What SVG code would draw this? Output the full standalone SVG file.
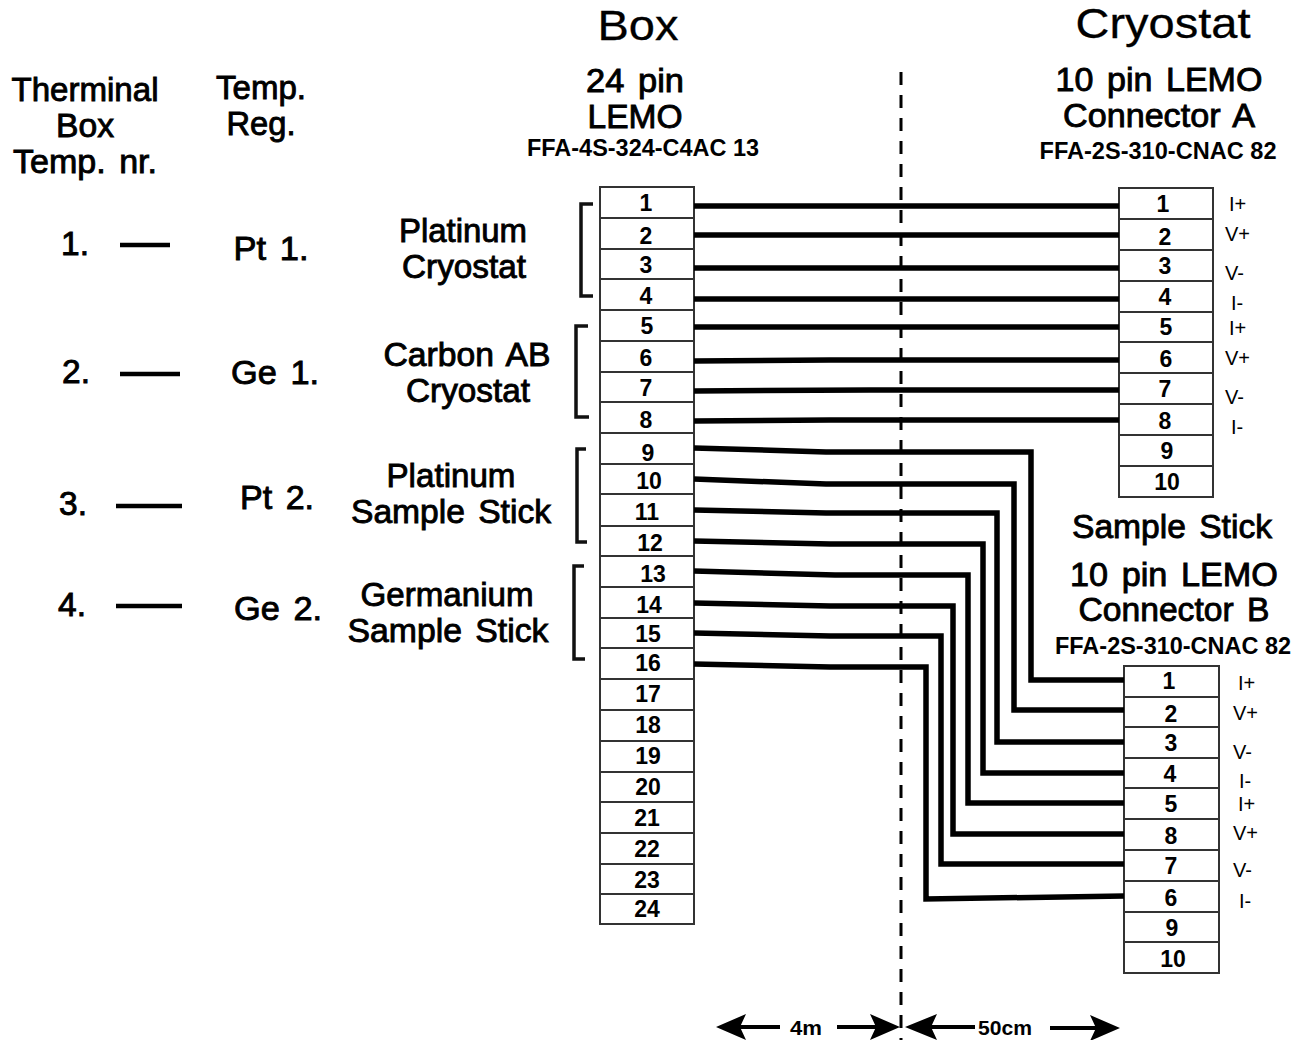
<svg xmlns="http://www.w3.org/2000/svg" width="1296" height="1040" viewBox="0 0 1296 1040">
<style>
text{font-family:"Liberation Sans",Arial,sans-serif;fill:#000;text-anchor:middle}
.h{font-size:43px;stroke:#000;stroke-width:.3px}
.t{font-size:33.5px;stroke:#000;stroke-width:.9px;word-spacing:4px}
.c{font-size:23px;font-weight:bold}
.n{font-size:23px;font-weight:bold}
.p{font-size:20px;text-anchor:start}
.b{fill:#fff;stroke:#333;stroke-width:2}
.r{stroke:#333;stroke-width:2}
.w{fill:none;stroke:#000;stroke-width:5.5;stroke-linejoin:miter}
.k{fill:none;stroke:#111;stroke-width:3.5}
.d{stroke:#000;stroke-width:4.5}
.a{fill:#000}
.q{stroke:#000;stroke-width:4;fill:none}
</style>
<rect width="1296" height="1040" fill="#fff"/>
<g id="headers">
<text class="h" x="638" y="40" textLength="81" lengthAdjust="spacingAndGlyphs">Box</text>
<text class="h" x="1163" y="38" textLength="175" lengthAdjust="spacingAndGlyphs">Cryostat</text>
<text class="t" x="635" y="92" textLength="98" lengthAdjust="spacingAndGlyphs">24 pin</text>
<text class="t" x="635" y="128" textLength="95" lengthAdjust="spacingAndGlyphs">LEMO</text>
<text class="c" x="643" y="156" textLength="232" lengthAdjust="spacingAndGlyphs">FFA-4S-324-C4AC 13</text>
<text class="t" x="1159" y="91" textLength="207" lengthAdjust="spacingAndGlyphs">10 pin LEMO</text>
<text class="t" x="1159" y="127" textLength="192" lengthAdjust="spacingAndGlyphs">Connector A</text>
<text class="c" x="1158" y="159" textLength="237" lengthAdjust="spacingAndGlyphs">FFA-2S-310-CNAC 82</text>
<text class="t" x="1172" y="538" textLength="200" lengthAdjust="spacingAndGlyphs">Sample Stick</text>
<text class="t" x="1174" y="586" textLength="208" lengthAdjust="spacingAndGlyphs">10 pin LEMO</text>
<text class="t" x="1174" y="621" textLength="191" lengthAdjust="spacingAndGlyphs">Connector B</text>
<text class="c" x="1173" y="654" textLength="236" lengthAdjust="spacingAndGlyphs">FFA-2S-310-CNAC 82</text>
<text class="t" x="85" y="101" textLength="147" lengthAdjust="spacingAndGlyphs">Therminal</text>
<text class="t" x="85" y="137" textLength="58" lengthAdjust="spacingAndGlyphs">Box</text>
<text class="t" x="85" y="173" textLength="144" lengthAdjust="spacingAndGlyphs">Temp. nr.</text>
<text class="t" x="261" y="99" textLength="90" lengthAdjust="spacingAndGlyphs">Temp.</text>
<text class="t" x="261" y="135" textLength="69" lengthAdjust="spacingAndGlyphs">Reg.</text>
</g>
<g id="sensors">
<text class="t" x="75" y="255">1.</text><path class="d" d="M120 245H170"/><text class="t" x="271" y="260" textLength="75" lengthAdjust="spacingAndGlyphs">Pt 1.</text>
<text class="t" x="76" y="383">2.</text><path class="d" d="M120 374H180"/><text class="t" x="275" y="384" textLength="88" lengthAdjust="spacingAndGlyphs">Ge 1.</text>
<text class="t" x="73" y="515">3.</text><path class="d" d="M116 506H182"/><text class="t" x="277" y="509" textLength="74" lengthAdjust="spacingAndGlyphs">Pt 2.</text>
<text class="t" x="72" y="616">4.</text><path class="d" d="M116 606H182"/><text class="t" x="278" y="620" textLength="88" lengthAdjust="spacingAndGlyphs">Ge 2.</text>
<text class="t" x="463" y="242" textLength="128" lengthAdjust="spacingAndGlyphs">Platinum</text><text class="t" x="464" y="278" textLength="124" lengthAdjust="spacingAndGlyphs">Cryostat</text>
<text class="t" x="467" y="366" textLength="167" lengthAdjust="spacingAndGlyphs">Carbon AB</text><text class="t" x="468" y="402" textLength="124" lengthAdjust="spacingAndGlyphs">Cryostat</text>
<text class="t" x="451" y="487" textLength="129" lengthAdjust="spacingAndGlyphs">Platinum</text><text class="t" x="451" y="523" textLength="200" lengthAdjust="spacingAndGlyphs">Sample Stick</text>
<text class="t" x="447" y="606" textLength="173" lengthAdjust="spacingAndGlyphs">Germanium</text><text class="t" x="448" y="642" textLength="201" lengthAdjust="spacingAndGlyphs">Sample Stick</text>
<path class="k" d="M593 204H581V296H593"/>
<path class="k" d="M588 326H576V417H589"/>
<path class="k" d="M586 449H577V542H587"/>
<path class="k" d="M584 566H574V659H585"/>
</g>
<g id="box-24">
<rect class="b" x="600" y="187" width="94" height="737"/>
<path class="r" d="M600 218H694M600 249H694M600 279H694M600 310H694M600 341H694M600 372H694M600 402H694M600 433H694M600 464H694M600 494H694M600 526H694M600 556H694M600 587H694M600 618H694M600 648H694M600 679H694M600 710H694M600 741H694M600 772H694M600 802H694M600 833H694M600 864H694M600 894H694"/>
<text class="n" x="646" y="211">1</text><text class="n" x="646" y="244">2</text><text class="n" x="646" y="273">3</text><text class="n" x="646" y="304">4</text><text class="n" x="647" y="334">5</text><text class="n" x="646" y="366">6</text><text class="n" x="646" y="396">7</text><text class="n" x="646" y="428">8</text><text class="n" x="648" y="461">9</text><text class="n" x="649" y="489">10</text><text class="n" x="647" y="520">11</text><text class="n" x="650" y="551">12</text><text class="n" x="653" y="582">13</text><text class="n" x="649" y="613">14</text><text class="n" x="648" y="642">15</text><text class="n" x="648" y="671">16</text><text class="n" x="648" y="702">17</text><text class="n" x="648" y="733">18</text><text class="n" x="648" y="764">19</text><text class="n" x="648" y="795">20</text><text class="n" x="647" y="826">21</text><text class="n" x="647" y="857">22</text><text class="n" x="647" y="888">23</text><text class="n" x="647" y="917">24</text>
</g>
<g id="connector-a">
<rect class="b" x="1119" y="188" width="94" height="309"/>
<path class="r" d="M1119 219H1213M1119 250H1213M1119 281H1213M1119 312H1213M1119 342H1213M1119 373H1213M1119 404H1213M1119 435H1213M1119 466H1213"/>
<text class="n" x="1163" y="212">1</text><text class="n" x="1165" y="245">2</text><text class="n" x="1165" y="274">3</text><text class="n" x="1165" y="305">4</text><text class="n" x="1166" y="335">5</text><text class="n" x="1166" y="367">6</text><text class="n" x="1165" y="397">7</text><text class="n" x="1165" y="429">8</text><text class="n" x="1167" y="459">9</text><text class="n" x="1167" y="490">10</text>
<text class="p" x="1229" y="211">I+</text><text class="p" x="1225" y="241">V+</text><text class="p" x="1225" y="280">V-</text><text class="p" x="1231" y="310">I-</text><text class="p" x="1229" y="335">I+</text><text class="p" x="1225" y="365">V+</text><text class="p" x="1225" y="404">V-</text><text class="p" x="1231" y="434">I-</text>
</g>
<g id="connector-b">
<rect class="b" x="1124" y="666" width="95" height="307"/>
<path class="r" d="M1124 697H1219M1124 727H1219M1124 758H1219M1124 788H1219M1124 819H1219M1124 850H1219M1124 881H1219M1124 912H1219M1124 942H1219"/>
<text class="n" x="1169" y="689">1</text><text class="n" x="1171" y="722">2</text><text class="n" x="1171" y="751">3</text><text class="n" x="1170" y="782">4</text><text class="n" x="1171" y="812">5</text><text class="n" x="1171" y="844">8</text><text class="n" x="1171" y="874">7</text><text class="n" x="1171" y="906">6</text><text class="n" x="1172" y="936">9</text><text class="n" x="1173" y="967">10</text>
<text class="p" x="1238" y="690">I+</text><text class="p" x="1233" y="720">V+</text><text class="p" x="1233" y="759">V-</text><text class="p" x="1239" y="788">I-</text><text class="p" x="1238" y="811">I+</text><text class="p" x="1233" y="840">V+</text><text class="p" x="1233" y="877">V-</text><text class="p" x="1239" y="908">I-</text>
</g>
<g id="connectors">
<path class="w" d="M694 206H1119"/>
<path class="w" d="M694 235H1119"/>
<path class="w" d="M694 268H1119"/>
<path class="w" d="M694 299H1119"/>
<path class="w" d="M694 327H1119"/>
<path class="w" d="M694 361L830 360H1119"/>
<path class="w" d="M694 391L870 390H1119"/>
<path class="w" d="M694 421L830 420H1119"/>
<path class="w" d="M694 448L826 452H1031V680H1124"/>
<path class="w" d="M694 479L826 484H1014V710H1124"/>
<path class="w" d="M694 510L826 513H997V742H1124"/>
<path class="w" d="M694 541L830 544H983V773H1124"/>
<path class="w" d="M694 571L835 575H968V803H1124"/>
<path class="w" d="M694 603L830 606H953V834H1124"/>
<path class="w" d="M694 633L830 636H941V864H1124"/>
<path class="w" d="M694 664L830 667H926V899L1124 896"/>
<path d="M901 72V1040" stroke="#000" stroke-width="3" stroke-dasharray="13 10" fill="none"/>
</g>
<g id="dimensions">
<path class="q" d="M738 1027H780M837 1027H880M930 1027H975M1050 1028H1098"/>
<path class="a" d="M716 1027L746 1014L740 1027L746 1040Z"/>
<path class="a" d="M900 1027L870 1014L876 1027L870 1040Z"/>
<path class="a" d="M905 1027L937 1014L931 1027L937 1040Z"/>
<path class="a" d="M1120 1028L1090 1015L1096 1028L1090 1041Z"/>
<text class="c" style="font-size:20px" x="806" y="1035" textLength="32" lengthAdjust="spacingAndGlyphs">4m</text>
<text class="c" style="font-size:20px" x="1005" y="1035" textLength="54" lengthAdjust="spacingAndGlyphs">50cm</text>
</g>
</svg>
